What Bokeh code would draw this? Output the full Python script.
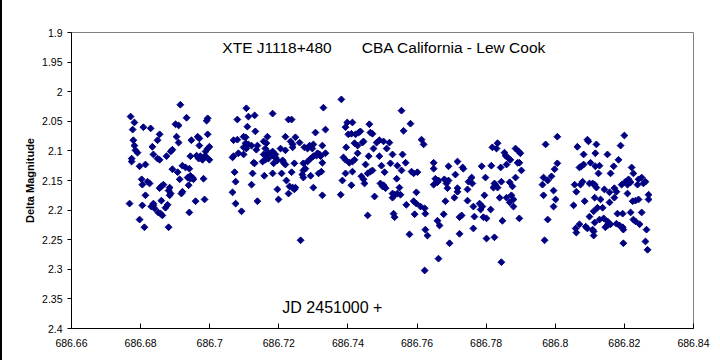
from bokeh.plotting import figure
from bokeh.models import Range1d, FixedTicker, CustomJSTickFormatter, Label, ColumnDataSource, Div
from bokeh.layouts import row
from bokeh.embed import file_html
from bokeh.resources import INLINE

# ---- data: (JD - 2451000, delta magnitude) ----
seg1 = [
    (686.6915, 2.022), (686.6771, 2.042), (686.6933, 2.044), (686.6994, 2.045), (686.6991, 2.049),
    (686.6782, 2.052), (686.6901, 2.055), (686.6910, 2.057), (686.6777, 2.064), (686.6808, 2.060),
    (686.6829, 2.062), (686.6855, 2.072), (686.6904, 2.076), (686.6965, 2.076), (686.6970, 2.079),
    (686.6994, 2.072), (686.6779, 2.082), (686.6849, 2.082), (686.6910, 2.086), (686.6947, 2.082),
    (686.6782, 2.091), (686.6834, 2.093), (686.6970, 2.091), (686.6999, 2.093), (686.6994, 2.096),
    (686.6988, 2.101), (686.6785, 2.099), (686.6791, 2.103), (686.6892, 2.098), (686.6887, 2.101),
    (686.6837, 2.106), (686.6849, 2.113), (686.6855, 2.115), (686.6875, 2.109), (686.6944, 2.109),
    (686.6962, 2.108), (686.6973, 2.109), (686.6982, 2.111), (686.6968, 2.113), (686.6979, 2.115),
    (686.6988, 2.109), (686.6999, 2.115), (686.6774, 2.113), (686.6774, 2.118), (686.6797, 2.126),
    (686.6814, 2.123), (686.6892, 2.131), (686.6907, 2.136), (686.6921, 2.125), (686.6930, 2.128),
    (686.6941, 2.130), (686.6944, 2.142), (686.6936, 2.145), (686.6950, 2.145), (686.6953, 2.148),
    (686.6944, 2.147), (686.6913, 2.148), (686.6982, 2.147), (686.6803, 2.148), (686.6820, 2.152),
    (686.6826, 2.155), (686.6805, 2.157), (686.6860, 2.160), (686.6866, 2.157), (686.6855, 2.163),
    (686.6884, 2.162), (686.6881, 2.167), (686.6887, 2.172), (686.6884, 2.175), (686.6939, 2.158),
    (686.6921, 2.169), (686.6918, 2.172), (686.6814, 2.175), (686.6768, 2.189), (686.6805, 2.192),
    (686.6837, 2.189), (686.6831, 2.194), (686.6840, 2.197), (686.6837, 2.192), (686.6860, 2.184),
    (686.6878, 2.191), (686.6872, 2.196), (686.6959, 2.185), (686.6985, 2.182), (686.6851, 2.204),
    (686.6858, 2.206), (686.6863, 2.209), (686.6941, 2.204), (686.6797, 2.216), (686.6811, 2.229),
    (686.6881, 2.229),
]

seg2 = [
    (686.7106, 2.028), (686.7329, 2.027), (686.7080, 2.047), (686.7112, 2.042), (686.7130, 2.040),
    (686.7182, 2.037), (686.7228, 2.047), (686.7237, 2.047), (686.7109, 2.059), (686.7132, 2.067),
    (686.7306, 2.069), (686.7335, 2.064), (686.7069, 2.082), (686.7080, 2.081), (686.7098, 2.076),
    (686.7104, 2.077), (686.7167, 2.076), (686.7219, 2.076), (686.7248, 2.077), (686.7156, 2.084),
    (686.7164, 2.087), (686.7234, 2.084), (686.7240, 2.089), (686.7260, 2.086), (686.7104, 2.087),
    (686.7112, 2.089), (686.7098, 2.094), (686.7106, 2.096), (686.7121, 2.091), (686.7138, 2.091),
    (686.7135, 2.098), (686.7161, 2.096), (686.7205, 2.096), (686.7219, 2.099), (686.7240, 2.094),
    (686.7274, 2.094), (686.7283, 2.096), (686.7289, 2.091), (686.7300, 2.089), (686.7297, 2.096),
    (686.7326, 2.091), (686.7083, 2.104), (686.7098, 2.106), (686.7176, 2.104), (686.7156, 2.106),
    (686.7170, 2.103), (686.7182, 2.101), (686.7190, 2.106), (686.7161, 2.108), (686.7185, 2.109),
    (686.7312, 2.104), (686.7318, 2.106), (686.7335, 2.104), (686.7066, 2.111), (686.7069, 2.109),
    (686.7153, 2.118), (686.7161, 2.115), (686.7170, 2.113), (686.7190, 2.111), (686.7196, 2.116),
    (686.7185, 2.121), (686.7211, 2.116), (686.7214, 2.120), (686.7219, 2.123), (686.7127, 2.120),
    (686.7130, 2.121), (686.7245, 2.121), (686.7271, 2.121), (686.7283, 2.118), (686.7292, 2.113),
    (686.7300, 2.109), (686.7309, 2.108), (686.7321, 2.109), (686.7326, 2.120), (686.7072, 2.136),
    (686.7124, 2.138), (686.7158, 2.142), (686.7182, 2.138), (686.7208, 2.138), (686.7237, 2.136),
    (686.7271, 2.133), (686.7277, 2.130), (686.7268, 2.140), (686.7271, 2.145), (686.7292, 2.142),
    (686.7315, 2.138), (686.7323, 2.135), (686.7075, 2.152), (686.7121, 2.157), (686.7222, 2.150),
    (686.7231, 2.160), (686.7240, 2.162), (686.7245, 2.165), (686.7248, 2.162), (686.7300, 2.162),
    (686.7066, 2.170), (686.7196, 2.165), (686.7228, 2.172), (686.7326, 2.175), (686.7075, 2.189),
    (686.7138, 2.185), (686.7199, 2.182), (686.7092, 2.202), (686.7263, 2.251),
]

seg3 = [
    (686.7381, 2.013), (686.7555, 2.032), (686.7581, 2.054), (686.7398, 2.052), (686.7393, 2.060),
    (686.7413, 2.052), (686.7462, 2.055), (686.7561, 2.066), (686.7401, 2.072), (686.7410, 2.071),
    (686.7422, 2.072), (686.7431, 2.069), (686.7436, 2.067), (686.7465, 2.069), (686.7471, 2.071),
    (686.7445, 2.084), (686.7442, 2.086), (686.7419, 2.087), (686.7428, 2.091), (686.7483, 2.086),
    (686.7491, 2.082), (686.7503, 2.084), (686.7520, 2.086), (686.7395, 2.094), (686.7474, 2.096),
    (686.7512, 2.096), (686.7613, 2.081), (686.7619, 2.089), (686.7428, 2.104), (686.7529, 2.106),
    (686.7558, 2.106), (686.7387, 2.111), (686.7393, 2.115), (686.7404, 2.120), (686.7413, 2.118),
    (686.7419, 2.115), (686.7460, 2.109), (686.7491, 2.109), (686.7451, 2.123), (686.7497, 2.125),
    (686.7523, 2.121), (686.7543, 2.125), (686.7567, 2.120), (686.7648, 2.120), (686.7648, 2.130),
    (686.7691, 2.126), (686.7555, 2.133), (686.7393, 2.138), (686.7413, 2.135), (686.7457, 2.138),
    (686.7465, 2.135), (686.7471, 2.133), (686.7506, 2.136), (686.7584, 2.135), (686.7590, 2.138),
    (686.7601, 2.136), (686.7439, 2.143), (686.7445, 2.148), (686.7448, 2.155), (686.7384, 2.150),
    (686.7410, 2.158), (686.7541, 2.147), (686.7653, 2.147), (686.7659, 2.153), (686.7648, 2.157),
    (686.7662, 2.150), (686.7679, 2.148), (686.7691, 2.150), (686.7685, 2.155), (686.7688, 2.163),
    (686.7494, 2.155), (686.7503, 2.158), (686.7509, 2.163), (686.7500, 2.160), (686.7549, 2.162),
    (686.7379, 2.174), (686.7477, 2.177), (686.7529, 2.172), (686.7535, 2.174), (686.7529, 2.179),
    (686.7543, 2.172), (686.7552, 2.174), (686.7598, 2.170), (686.7569, 2.191), (686.7590, 2.185),
    (686.7598, 2.189), (686.7610, 2.194), (686.7622, 2.197), (686.7624, 2.206), (686.7593, 2.207),
    (686.7682, 2.185), (686.7677, 2.207), (686.7457, 2.209), (686.7532, 2.206), (686.7535, 2.212),
    (686.7659, 2.218), (686.7665, 2.226), (686.7624, 2.233), (686.7630, 2.243), (686.7578, 2.241),
    (686.7694, 2.256), (686.7662, 2.282), (686.7622, 2.302),
]

seg4 = [
    (686.7833, 2.087), (686.7818, 2.094), (686.7830, 2.096), (686.7885, 2.096), (686.7894, 2.101),
    (686.7899, 2.104), (686.7853, 2.103), (686.7856, 2.108), (686.7862, 2.111), (686.7870, 2.115),
    (686.7717, 2.118), (686.7891, 2.120), (686.7896, 2.120), (686.7732, 2.128), (686.7734, 2.130),
    (686.7787, 2.126), (686.7815, 2.125), (686.7842, 2.128), (686.7859, 2.123), (686.7902, 2.133),
    (686.7711, 2.140), (686.7798, 2.145), (686.7758, 2.145), (686.7749, 2.152), (686.7760, 2.155),
    (686.7885, 2.145), (686.7844, 2.152), (686.7868, 2.153), (686.7876, 2.160), (686.7824, 2.155),
    (686.7821, 2.162), (686.7833, 2.162), (686.7827, 2.158), (686.7717, 2.163), (686.7717, 2.169),
    (686.7746, 2.165), (686.7708, 2.179), (686.7795, 2.175), (686.7839, 2.179), (686.7859, 2.179),
    (686.7873, 2.175), (686.7879, 2.182), (686.7868, 2.187), (686.7746, 2.184), (686.7781, 2.189),
    (686.7789, 2.194), (686.7784, 2.199), (686.7763, 2.194), (686.7879, 2.194), (686.7813, 2.199),
    (686.7723, 2.212), (686.7729, 2.209), (686.7766, 2.211), (686.7792, 2.212), (686.7801, 2.214),
    (686.7847, 2.218), (686.7896, 2.214), (686.7763, 2.231), (686.7723, 2.240), (686.7801, 2.248),
    (686.7824, 2.246), (686.7844, 2.288),
]

seg5 = [
    (686.8006, 2.076), (686.7972, 2.089), (686.8006, 2.121), (686.7998, 2.131), (686.7966, 2.145),
    (686.7978, 2.150), (686.7989, 2.143), (686.7963, 2.157), (686.7995, 2.167), (686.7966, 2.175),
    (686.8001, 2.182), (686.7995, 2.194), (686.7978, 2.216), (686.7969, 2.251),
]

seg6 = [
    (686.8200, 2.074), (686.8093, 2.081), (686.8096, 2.084), (686.8064, 2.093), (686.8119, 2.089),
    (686.8189, 2.091), (686.8082, 2.106), (686.8116, 2.104), (686.8151, 2.106), (686.8183, 2.115),
    (686.8070, 2.128), (686.8076, 2.126), (686.8082, 2.123), (686.8102, 2.120), (686.8116, 2.126),
    (686.8128, 2.125), (686.8169, 2.126), (686.8221, 2.128), (686.8125, 2.138), (686.8160, 2.138),
    (686.8226, 2.138), (686.8056, 2.157), (686.8073, 2.157), (686.8079, 2.152), (686.8099, 2.155),
    (686.8108, 2.155), (686.8114, 2.157), (686.8119, 2.162), (686.8142, 2.165), (686.8157, 2.170),
    (686.8171, 2.163), (686.8177, 2.169), (686.8192, 2.157), (686.8203, 2.152), (686.8209, 2.157),
    (686.8212, 2.148), (686.8218, 2.153), (686.8238, 2.157), (686.8241, 2.148), (686.8250, 2.145),
    (686.8255, 2.155), (686.8261, 2.152), (686.8061, 2.169), (686.8209, 2.172), (686.8270, 2.174),
    (686.8270, 2.182), (686.8114, 2.179), (686.8131, 2.182), (686.8171, 2.179), (686.8085, 2.185),
    (686.8157, 2.187), (686.8224, 2.185), (686.8232, 2.184), (686.8241, 2.182), (686.8053, 2.192),
    (686.8122, 2.196), (686.8137, 2.196), (686.8111, 2.202), (686.8099, 2.211), (686.8180, 2.206),
    (686.8195, 2.206), (686.8218, 2.204), (686.8250, 2.204), (686.8140, 2.214), (686.8128, 2.216),
    (686.8151, 2.219), (686.8114, 2.221), (686.8226, 2.216), (686.8232, 2.219), (686.8070, 2.224),
    (686.8151, 2.226), (686.8154, 2.223), (686.8160, 2.224), (686.8145, 2.229), (686.8177, 2.223),
    (686.8186, 2.226), (686.8195, 2.229), (686.8244, 2.224), (686.8197, 2.233), (686.8059, 2.231),
    (686.8061, 2.238), (686.8088, 2.228), (686.8093, 2.231), (686.8108, 2.233), (686.8111, 2.236),
    (686.8111, 2.243), (686.8264, 2.233), (686.8197, 2.256), (686.8261, 2.253), (686.8267, 2.267),
]

x_ticks = [686.66, 686.68, 686.70, 686.72, 686.74, 686.76, 686.78, 686.80, 686.82, 686.84]
y_ticks = [1.9, 1.95, 2.0, 2.05, 2.1, 2.15, 2.2, 2.25, 2.3, 2.35, 2.4]

NBSP = "\u00a0"
title_text = "XTE J1118+480" + NBSP * 7 + "CBA California - Lew Cook"
jd_text = "JD 2451000 +"
y_label = "Delta Magnitude"

points = seg1 + seg2 + seg3 + seg4 + seg5 + seg6
src = ColumnDataSource(data=dict(jd=[pt[0] for pt in points], mag=[pt[1] for pt in points]))

p = figure(width=718, height=360, output_backend="svg", toolbar_location=None,
           title=None,
           x_range=Range1d(x_ticks[0], x_ticks[-1]),
           y_range=Range1d(y_ticks[-1], y_ticks[0]),
           min_border_left=69, min_border_right=27, min_border_top=32, min_border_bottom=32)
p.margin = 0

p.background_fill_color = "white"
p.border_fill_color = "white"
p.outline_line_color = "#808080"
p.outline_line_width = 1
p.xgrid.visible = False
p.ygrid.visible = False

fmt = "var s = tick.toFixed(2); s = s.replace(/0+$/, ''); s = s.replace(/\\.$/, ''); return s;"

p.xaxis.ticker = FixedTicker(ticks=x_ticks)
p.xaxis.formatter = CustomJSTickFormatter(code=fmt)
p.xaxis.major_tick_in = 5
p.xaxis.major_tick_out = 0
p.xaxis.minor_tick_line_color = None
p.xaxis.major_label_standoff = 10

p.yaxis.ticker = FixedTicker(ticks=y_ticks)
p.yaxis.formatter = CustomJSTickFormatter(code=fmt)
p.yaxis.major_tick_in = 0
p.yaxis.major_tick_out = 4
p.yaxis.minor_tick_line_color = None
p.yaxis.major_label_standoff = 5
p.yaxis.axis_label = y_label
p.yaxis.axis_label_text_font = "Liberation Sans"
p.yaxis.axis_label_text_font_style = "bold"
p.yaxis.axis_label_text_font_size = "11px"
p.yaxis.axis_label_text_color = "black"
p.yaxis.axis_label_standoff = 3

for ax in (p.xaxis, p.yaxis):
    ax.axis_line_color = "black"
    ax.axis_line_width = 1
    ax.major_tick_line_color = "black"
    ax.major_label_text_font = "Liberation Sans"
    ax.major_label_text_font_size = "10.5px"
    ax.major_label_text_color = "black"

p.scatter("jd", "mag", source=src, marker="square", angle=0.785398, size=4.8,
          fill_color="#000080", line_color="#000080", line_width=1)

p.add_layout(Label(x=686.7505, y=1.9245, text=title_text, text_align="center",
                   text_baseline="middle", text_font="Liberation Sans",
                   text_font_size="15.5px", text_color="black"))
p.add_layout(Label(x=686.7355, y=2.3645, text=jd_text, text_align="center",
                   text_baseline="middle", text_font="Liberation Sans",
                   text_font_size="16px", text_color="black"))

edge = Div(text="", width=2, height=360, margin=0, styles={"background-color": "black"})
layout = row(edge, p, spacing=0)
layout.margin = 0

open("out.html", "w").write(file_html(layout, INLINE))
